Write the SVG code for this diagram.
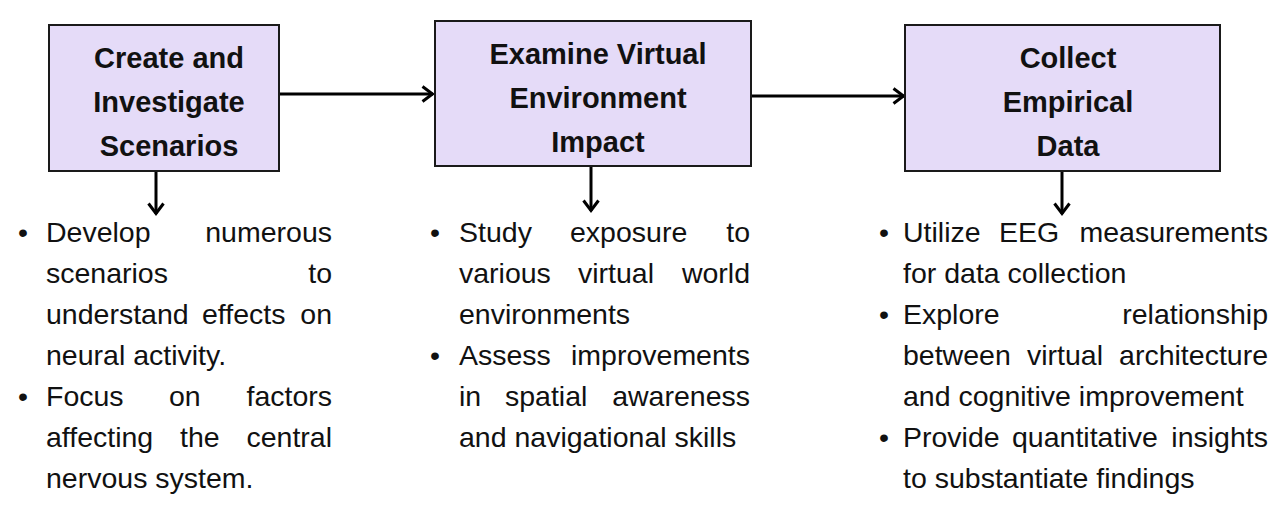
<svg xmlns="http://www.w3.org/2000/svg" width="1279" height="516" viewBox="0 0 1279 516">
<style>
.box{fill:#E5DBF8;stroke:#1a1a1a;stroke-width:2}
.t{font-family:"Liberation Sans",Arial,sans-serif;font-weight:bold;font-size:29px;fill:#111;text-anchor:middle}
.b{font-family:"Liberation Sans",Arial,sans-serif;font-size:28.5px;fill:#111}
.e{text-anchor:end}
.c{stroke:#000;stroke-width:3;fill:none}
</style>
<defs>
<marker id="ah" viewBox="0 0 14 18" refX="12.5" refY="9" markerWidth="14" markerHeight="18" markerUnits="userSpaceOnUse" orient="auto">
<path d="M2,1.5 L12,9 L2,16.5" fill="none" stroke="#000" stroke-width="3"/>
</marker>
</defs>
<g id="connectors">
<line class="c" x1="279" y1="94" x2="433" y2="94" marker-end="url(#ah)"/>
<line class="c" x1="751" y1="96" x2="904" y2="96" marker-end="url(#ah)"/>
<line class="c" x1="156" y1="171" x2="156" y2="214" marker-end="url(#ah)"/>
<line class="c" x1="591" y1="166" x2="591" y2="211" marker-end="url(#ah)"/>
<line class="c" x1="1062" y1="171" x2="1062" y2="214" marker-end="url(#ah)"/>
</g>
<g id="node1">
<rect class="box" x="49" y="25" width="230" height="146"/>
<text class="t" x="169" y="68">Create and</text>
<text class="t" x="169" y="112">Investigate</text>
<text class="t" x="169" y="156">Scenarios</text>
</g>
<g id="node2">
<rect class="box" x="435" y="21" width="316" height="145"/>
<text class="t" x="598" y="64">Examine Virtual</text>
<text class="t" x="598" y="108">Environment</text>
<text class="t" x="598" y="152">Impact</text>
</g>
<g id="node3">
<rect class="box" x="905" y="25" width="315" height="146"/>
<text class="t" x="1068" y="68">Collect</text>
<text class="t" x="1068" y="112">Empirical</text>
<text class="t" x="1068" y="156">Data</text>
</g>
<g id="list1" class="b">
<text x="23" y="242" text-anchor="middle">•</text>
<text x="46" y="242">Develop</text><text x="332" y="242" class="e">numerous</text>
<text x="46" y="283">scenarios</text><text x="332" y="283" class="e">to</text>
<text x="46" y="324">understand</text><text x="202" y="324">effects</text><text x="332" y="324" class="e">on</text>
<text x="46" y="365">neural activity.</text>
<text x="23" y="406" text-anchor="middle">•</text>
<text x="46" y="406">Focus</text><text x="169" y="406">on</text><text x="332" y="406" class="e">factors</text>
<text x="46" y="447">affecting</text><text x="180" y="447">the</text><text x="332" y="447" class="e">central</text>
<text x="46" y="488">nervous system.</text>
</g>
<g id="list2" class="b">
<text x="435" y="242" text-anchor="middle">•</text>
<text x="459" y="242">Study</text><text x="570" y="242">exposure</text><text x="750" y="242" class="e">to</text>
<text x="459" y="283">various</text><text x="578" y="283">virtual</text><text x="750" y="283" class="e">world</text>
<text x="459" y="324">environments</text>
<text x="435" y="365" text-anchor="middle">•</text>
<text x="459" y="365">Assess</text><text x="750" y="365" class="e">improvements</text>
<text x="459" y="406">in</text><text x="505" y="406">spatial</text><text x="750" y="406" class="e">awareness</text>
<text x="459" y="447">and navigational skills</text>
</g>
<g id="list3" class="b">
<text x="884" y="242" text-anchor="middle">•</text>
<text x="903" y="242">Utilize</text><text x="999" y="242">EEG</text><text x="1268" y="242" class="e">measurements</text>
<text x="903" y="283">for data collection</text>
<text x="884" y="324" text-anchor="middle">•</text>
<text x="903" y="324">Explore</text><text x="1268" y="324" class="e">relationship</text>
<text x="903" y="365">between</text><text x="1027" y="365">virtual</text><text x="1268" y="365" class="e">architecture</text>
<text x="903" y="406">and cognitive improvement</text>
<text x="884" y="447" text-anchor="middle">•</text>
<text x="903" y="447">Provide</text><text x="1012" y="447">quantitative</text><text x="1268" y="447" class="e">insights</text>
<text x="903" y="488">to substantiate findings</text>
</g>
</svg>
